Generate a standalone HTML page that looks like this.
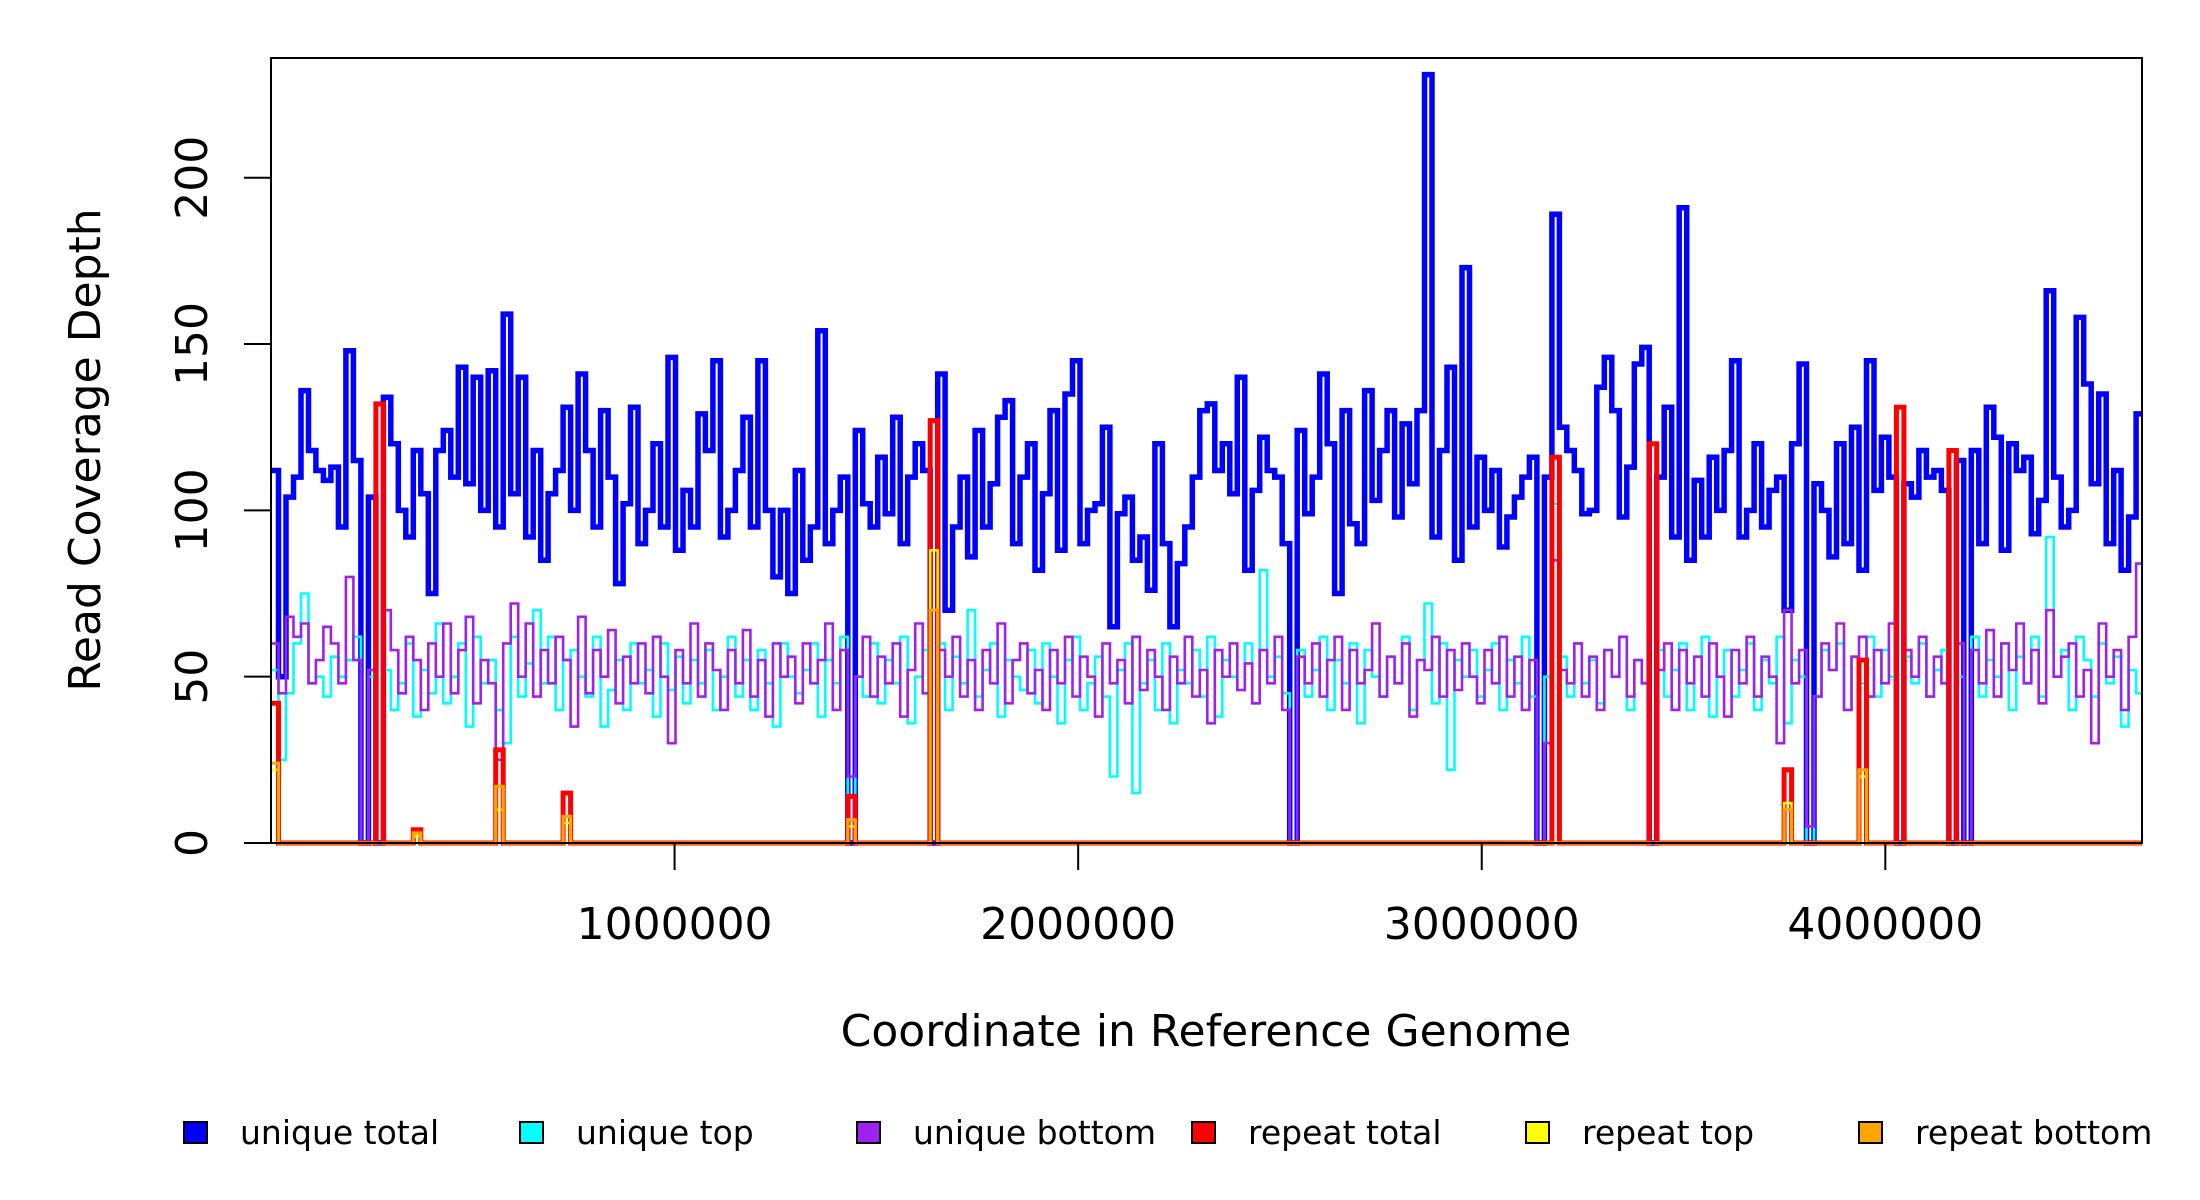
<!DOCTYPE html>
<html><head><meta charset="utf-8"><style>
html,body{margin:0;padding:0;background:#fff;}
svg{display:block;font-family:"DejaVu Sans","Liberation Sans",sans-serif;}
</style></head><body>
<svg id="chart" width="2200" height="1200" viewBox="0 0 2200 1200" xmlns="http://www.w3.org/2000/svg">
<g id="series"></g>
<rect x="271" y="58" width="1871" height="785" fill="none" stroke="#000" stroke-width="2"/>
<g id="axes"></g>
<text x="1206" y="1046" font-size="44" text-anchor="middle">Coordinate in Reference Genome</text>
<text x="0" y="0" font-size="44" text-anchor="middle" transform="translate(100,450) rotate(-90)">Read Coverage Depth</text>
<g id="legend"></g>
</svg>
<script>
const binWidth = 18560;
const uniqueTotal = [112,50,104,110,136,118,112,109,113,95,
148,115,0,104,0,134,120,100,92,118,
105,75,118,124,110,143,108,140,100,142,
95,159,105,140,92,118,85,105,112,131,
100,141,118,95,130,110,78,102,131,90,
100,120,95,146,88,106,95,129,118,145,
92,100,112,128,95,145,100,80,100,75,
112,85,95,154,90,100,110,0,124,102,
95,116,99,128,90,110,120,112,0,141,
70,95,110,86,124,95,108,128,133,90,
110,120,82,105,130,88,135,145,90,100,
102,125,65,99,104,85,92,76,120,90,
65,84,95,110,130,132,112,120,105,140,
82,106,122,112,110,90,0,124,99,110,
141,120,75,130,96,90,136,103,118,130,
98,126,108,130,231,92,118,143,85,173,
95,116,100,112,89,98,104,110,116,0,
110,189,125,118,112,99,100,137,146,130,
98,113,144,149,0,110,131,92,191,85,
109,92,116,100,118,145,92,100,120,95,
106,110,70,120,144,0,108,100,86,120,
90,125,82,145,106,122,110,0,108,104,
118,110,112,106,0,115,0,118,90,131,
122,88,120,112,116,93,103,166,110,95,
100,158,138,108,135,90,112,82,98,129];
const uniqueTop = [52,25,45,60,75,48,50,44,56,50,
55,62,0,50,0,52,40,48,60,38,
52,45,66,42,50,60,35,62,48,55,
40,30,62,44,54,70,48,62,40,55,
58,50,44,62,35,46,55,40,60,48,
52,38,60,46,56,42,55,48,58,40,
50,62,44,55,40,58,48,35,60,50,
45,52,60,38,55,48,62,0,50,44,
60,42,55,48,62,36,50,58,0,60,
40,56,48,70,44,52,60,38,55,50,
46,58,42,60,50,36,55,62,40,48,
56,44,20,52,60,15,48,55,40,60,
36,52,48,58,44,62,38,55,50,46,
60,42,82,50,56,45,0,58,44,52,
62,40,55,48,60,36,58,50,44,56,
48,62,40,55,72,42,60,22,55,50,
58,44,52,60,40,55,48,62,44,0,
50,102,56,44,60,48,55,42,58,50,
62,40,55,48,0,58,44,52,60,40,
56,62,38,50,58,44,52,60,40,55,
48,62,36,55,50,0,44,58,52,60,
40,56,48,62,44,58,50,0,56,48,
60,44,52,58,0,50,0,62,44,55,
50,60,40,56,48,62,44,92,50,58,
40,62,55,44,60,48,56,35,52,45];
const uniqueBottom = [60,45,68,62,66,48,55,65,60,48,
80,55,0,52,0,70,58,45,62,55,
40,60,50,66,45,58,68,42,55,48,
25,60,72,50,66,44,58,48,62,55,
35,68,45,58,50,64,42,56,48,60,
45,62,50,30,58,48,66,44,60,52,
40,58,48,64,44,55,38,60,50,56,
42,60,48,55,66,40,58,20,50,62,
44,56,48,60,38,52,66,45,0,58,
50,62,44,55,40,58,48,66,42,55,
60,45,52,40,58,48,62,44,56,50,
38,60,48,55,42,62,46,58,50,40,
56,48,62,44,52,36,58,50,60,46,
54,42,58,48,62,40,0,56,48,60,
44,55,62,40,58,48,52,66,44,56,
48,60,38,55,52,62,44,58,46,60,
50,42,58,48,62,44,56,40,55,0,
30,85,52,48,60,44,56,40,58,50,
62,44,55,48,0,52,60,40,58,48,
56,44,60,50,38,58,48,62,44,56,
50,30,70,48,58,5,44,60,52,66,
40,56,62,44,58,48,66,0,58,50,
62,44,56,48,0,60,0,58,48,64,
44,60,52,66,48,58,42,70,50,56,
60,44,52,30,66,50,58,40,62,84];
const repeatTotalBins = [0,14,19,30,39,77,88,171,184,202,212,217,224];
const repeatTotalValues = [42,132,4,28,15,14,127,116,120,22,55,131,118];
const repeatTopBins = [0,19,30,39,77,88,202,212];
const repeatTopValues = [22,2,10,6,5,88,12,20];
const repeatBottomBins = [0,19,30,39,77,88,202,212];
const repeatBottomValues = [24,3,17,8,7,70,10,22];
const xTicks = [1000000,2000000,3000000,4000000];
const xTickLabels = ["1000000","2000000","3000000","4000000"];
const yTicks = [0,50,100,150,200];
const yTickLabels = ["0","50","100","150","200"];
const legendLabels = ["unique total","unique top","unique bottom","repeat total","repeat top","repeat bottom"];
const legendColors = ["#0000FF","#00FFFF","#A020F0","#FF0000","#FFFF00","#FFA500"];

const NS = "http://www.w3.org/2000/svg";
const X0 = 271, X1 = 2142, Y0 = 843, Y1 = 58;
const xMax = 4636000, yMax = 236;
const xs = v => X0 + v / xMax * (X1 - X0);
const ys = v => Y0 - v / yMax * (Y0 - Y1);
const nBins = uniqueTotal.length;

function expand(bins, vals) {
  const a = new Array(nBins).fill(0);
  bins.forEach((b, i) => { a[b] = vals[i]; });
  return a;
}
function stepPath(vals) {
  let d = "M" + xs(0) + "," + ys(vals[0]);
  for (let i = 0; i < vals.length; i++) {
    const xa = xs(Math.min(i * binWidth, xMax)), xb = xs(Math.min((i + 1) * binWidth, xMax));
    d += " L" + xa.toFixed(1) + "," + ys(vals[i]).toFixed(1) + " L" + xb.toFixed(1) + "," + ys(vals[i]).toFixed(1);
  }
  return d;
}
const sg = document.getElementById("series");
const seriesDefs = [
  ["unique-total-line", uniqueTotal, "#0000FF", 5.5],
  ["unique-top-line", uniqueTop, "#00FFFF", 2.6],
  ["unique-bottom-line", uniqueBottom, "#A020F0", 2.6],
  ["repeat-total-line", expand(repeatTotalBins, repeatTotalValues), "#FF0000", 5],
  ["repeat-top-line", expand(repeatTopBins, repeatTopValues), "#FFFF00", 2.4],
  ["repeat-bottom-line", expand(repeatBottomBins, repeatBottomValues), "#FFA500", 3.2]
];
seriesDefs.forEach(s => {
  const p = document.createElementNS(NS, "path");
  
  
  p.setAttribute("d", stepPath(s[1]));
  p.setAttribute("fill", "none");
  p.setAttribute("stroke", s[2]);
  p.setAttribute("stroke-width", s[3]);
  p.setAttribute("stroke-linejoin", "miter");
  sg.appendChild(p);
});
const clip = document.createElementNS(NS, "clipPath");
clip.setAttribute("id", "pc");
const cr = document.createElementNS(NS, "rect");
cr.setAttribute("x", X0); cr.setAttribute("y", Y1); cr.setAttribute("width", X1 - X0); cr.setAttribute("height", Y0 - Y1 + 3);
clip.appendChild(cr);
document.getElementById("chart").appendChild(clip);
sg.setAttribute("clip-path", "url(#pc)");

const ax = document.getElementById("axes");
xTicks.forEach((t, i) => {
  const l = document.createElementNS(NS, "line");
  
  
  l.setAttribute("x1", xs(t)); l.setAttribute("x2", xs(t)); l.setAttribute("y1", Y0); l.setAttribute("y2", Y0 + 27);
  l.setAttribute("stroke", "#000"); l.setAttribute("stroke-width", "2");
  ax.appendChild(l);
  const tx = document.createElementNS(NS, "text");
  
  
  tx.setAttribute("x", xs(t)); tx.setAttribute("y", 939);
  tx.setAttribute("font-size", "44"); tx.setAttribute("text-anchor", "middle");
  tx.textContent = xTickLabels[i];
  ax.appendChild(tx);
});
yTicks.forEach((t, i) => {
  const l = document.createElementNS(NS, "line");
  
  
  l.setAttribute("x1", X0 - 27); l.setAttribute("x2", X0); l.setAttribute("y1", ys(t)); l.setAttribute("y2", ys(t));
  l.setAttribute("stroke", "#000"); l.setAttribute("stroke-width", "2");
  ax.appendChild(l);
  const tx = document.createElementNS(NS, "text");
  
  
  tx.setAttribute("font-size", "44"); tx.setAttribute("text-anchor", "middle");
  tx.setAttribute("transform", "translate(207," + ys(t) + ") rotate(-90)");
  tx.textContent = yTickLabels[i];
  ax.appendChild(tx);
});
const lg = document.getElementById("legend");
const legendX = [184, 520, 857, 1192, 1526, 1859];
legendLabels.forEach((lab, i) => {
  const r = document.createElementNS(NS, "rect");
  
  
  r.setAttribute("x", legendX[i]); r.setAttribute("y", 1122); r.setAttribute("width", 23); r.setAttribute("height", 21);
  r.setAttribute("fill", legendColors[i]); r.setAttribute("stroke", "#000"); r.setAttribute("stroke-width", "2");
  lg.appendChild(r);
  const tx = document.createElementNS(NS, "text");
  
  
  tx.setAttribute("x", legendX[i] + 56); tx.setAttribute("y", 1144);
  tx.setAttribute("font-size", "33");
  tx.textContent = lab;
  lg.appendChild(tx);
});
</script>
</body></html>
